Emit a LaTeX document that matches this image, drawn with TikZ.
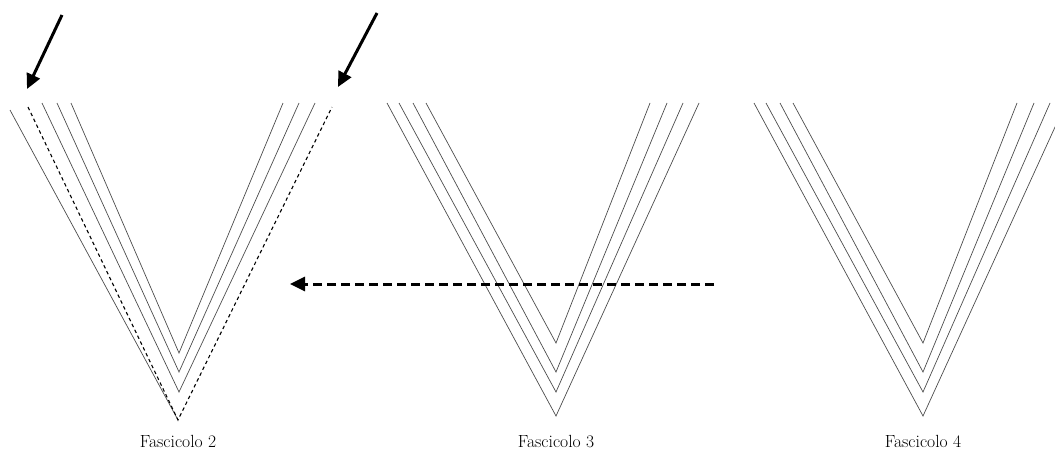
\documentclass[tikz,border=0pt]{standalone}
\usepackage{tikz}
\usetikzlibrary{arrows.meta}

\begin{document}
\begin{tikzpicture}[x=1pt,y=-1pt,
    vline/.style={black!70,line width=0.7pt},
    dline/.style={black,line width=1.1pt,dash pattern=on 3.5pt off 3pt},
    bigarrow/.style={black,line width=3pt,-{Triangle[length=15pt,width=14pt]}},
    label/.style={font=\fontsize{17.6}{20}\selectfont,anchor=base,inner sep=0pt}]
\clip (0,0) rectangle (1055,450);
% Fascicolo 2
\foreach \l/\a/\r in {42/392/315, 57/372/299, 71/353/283}
	\draw[vline] (\l,103) -- (179,\a) -- (\r,103);
\draw[vline] (10,110) -- (178,420);
\draw[dline] (28,107) -- (178,420) -- (332,107);
% Fascicolo 3 and 4
\foreach \dx in {0,367}
	\foreach \l/\a/\r in {387/416/699, 399/392/683, 413/372/667, 426/343/650}
		\draw[vline] (\l+\dx,103) -- (556+\dx,\a) -- (\r+\dx,103);
% arrows
\coordinate (s1) at (62,15);
\coordinate (t1) at (27,89);
\coordinate (s2) at (377,13);
\coordinate (t2) at (338,87);
\draw[bigarrow] (s1) -- (t1);
\draw[bigarrow] (s2) -- (t2);
\coordinate (hs) at (714,284);
\coordinate (ht) at (290,284);
\draw[bigarrow,dash pattern=on 9pt off 5pt] (hs) -- (ht);
% labels
\node[label] (f2) at (178,447) {Fascicolo 2};
\node[label] (f3) at (556,447) {Fascicolo 3};
\node[label] (f4) at (923,447) {Fascicolo 4};
\end{tikzpicture}
\end{document}
